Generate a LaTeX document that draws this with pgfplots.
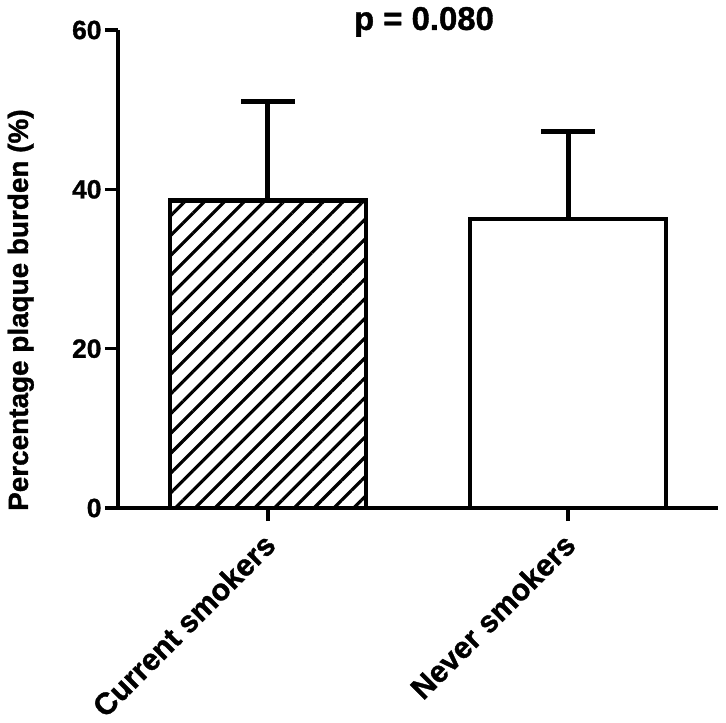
\documentclass[border=0pt]{standalone}
\usepackage{fontspec}
\setmainfont{Liberation Sans}[BoldFeatures={FakeBold=1.2}]
\usepackage{pgfplots}
\pgfplotsset{compat=1.18}
\usetikzlibrary{patterns.meta}

\begin{document}
\begin{tikzpicture}
\begin{axis}[
  name=ax,
  scale only axis, width=600bp, height=478bp,
  xmin=-0.5, xmax=1.5, ymin=0, ymax=60,
  axis x line=bottom, axis y line=left,
  axis line style={-, line width=4bp},
  clip=false,
  ytick={0,20,40,60}, xtick={0,1},
  xticklabels={Current smokers, Never smokers},
  tick align=outside, major tick length=13bp,
  tick style={line width=3.5bp, black},
  xticklabel shift=20bp,
  x tick label style={rotate=45, anchor=east, xshift=6bp, font=\fontsize{30.5}{30.5}\selectfont\bfseries},
  y tick label style={font=\fontsize{26.5}{26.5}\selectfont\bfseries},
  /pgf/number format/assume math mode=true,
  ylabel={Percentage plaque burden (\%)},
  ylabel style={font=\fontsize{28}{28}\selectfont\bfseries, at={(axis description cs:-0.162,0.414)}, anchor=center},
]
\addplot[ybar, bar shift=0pt, bar width=196bp, draw=black, line width=4.5bp,
  pattern={Lines[angle=45,distance=14bp,line width=3.2bp]},
  error bars/.cd, y dir=plus, y explicit,
  error bar style={line width=5bp, black},
  error mark options={rotate=90, mark size=27bp, line width=5bp, black}]
  coordinates {(0,38.6) +- (0,12.4)};
\addplot[ybar, bar shift=0pt, bar width=196bp, draw=black, line width=4.5bp, fill=white,
  error bars/.cd, y dir=plus, y explicit,
  error bar style={line width=5bp, black},
  error mark options={rotate=90, mark size=27bp, line width=5bp, black}]
  coordinates {(1,36.3) +- (0,11.0)};
\node[font=\fontsize{33}{33}\selectfont\bfseries] at (rel axis cs:0.51,1.017) {p = 0.080};
\end{axis}
\pgfresetboundingbox
\path (ax.south west) ++(-118bp,-215bp) rectangle ++(726bp,723bp);
\end{tikzpicture}
\end{document}
